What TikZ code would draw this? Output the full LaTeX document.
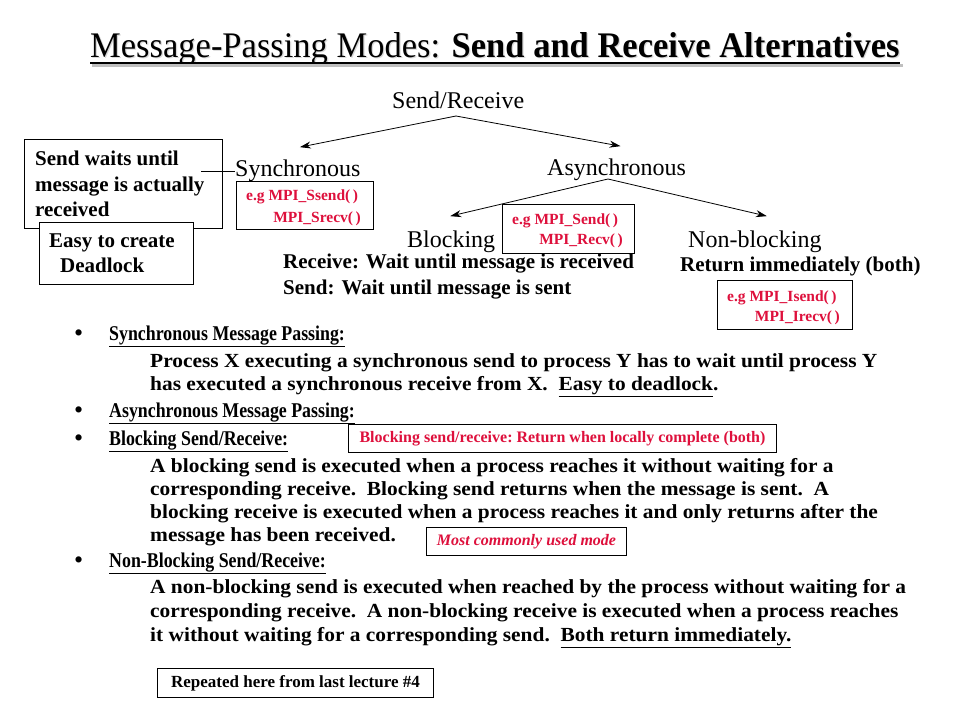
\documentclass[tikz,border=0pt]{standalone}
\usepackage{fontspec}
\setmainfont{Liberation Serif}
\newfontfamily\condfont[FakeStretch=0.85]{Liberation Serif}
\newfontfamily\widefont[FakeStretch=1.07]{Liberation Serif}
\usetikzlibrary{arrows.meta}
\definecolor{mpired}{RGB}{222,16,60}
\begin{document}
\begin{tikzpicture}[x=1pt,y=-1pt,
  every node/.style={inner sep=0pt},
  lbl/.style={font=\fontsize{24}{28}\selectfont, anchor=base west},
  bt/.style={font=\bfseries\fontsize{21}{24}\selectfont, anchor=base west},
  head/.style={font=\condfont\bfseries\fontsize{21}{24}\selectfont, anchor=base west},
  body/.style={font=\widefont\bfseries\fontsize{20}{23}\selectfont, anchor=base west},
  redt/.style={font=\bfseries\fontsize{15.5}{17}\selectfont, text=mpired, anchor=base west},
  redbox/.style={draw, line width=1pt, fill=white},
  plainbox/.style={draw, line width=1pt, fill=white},
  arr/.style={-{Stealth[length=11pt,width=7pt]}, line width=0.8pt},
]
\useasboundingbox (0,0) rectangle (960,720);
\fill[white] (0,0) rectangle (960,720);

% title
\node[anchor=base west, font=\fontsize{36}{40}\selectfont, text=gray!30] (titleshadow) at (91.2,58.2)
  {\scalebox{0.959}[1]{Message-Passing Modes: \textbf{Send and Receive Alternatives}}};
\node[anchor=base west, font=\fontsize{36}{40}\selectfont] (title) at (90,57)
  {\scalebox{0.959}[1]{Message-Passing Modes: \textbf{Send and Receive Alternatives}}};
\draw[line width=3pt, gray!50] ([xshift=2pt,yshift=-8pt]title.base west) -- ([xshift=3pt,yshift=-8pt]title.base east);
\draw[line width=2.8pt] ([yshift=-6pt]title.base west) -- ([yshift=-6pt]title.base east);

% tree
\node[lbl] (sr) at (392,108) {Send/Receive};
\node[lbl] (sync) at (235,176) {Synchronous};
\node[lbl] (async) at (547,175) {Asynchronous};
\node[lbl] (block) at (407,247) {Blocking};
\node[lbl] (nonblock) at (688,247) {Non-blocking};
\coordinate (apex1) at (456,116);
\coordinate (apex2) at (608,179);
\draw[arr] (apex1) -- ([xshift=2pt,yshift=12pt]sync.north);
\draw[arr] (apex1) -- ([xshift=4pt,yshift=12pt]async.north);
\draw[arr] (apex2) -- ([xshift=-1pt,yshift=14pt]block.north);
\draw[arr] (apex2) -- ([xshift=12pt,yshift=14pt]nonblock.north);

% send waits box
\node[plainbox, anchor=north west, minimum width=198pt, minimum height=89pt] (swbox) at (24,139) {};
\node[bt] (sw1) at (35,165) {Send waits until};
\node[bt] (sw2) at (35,191) {message is actually};
\node[bt] (sw3) at (35,216) {received};
\coordinate (swend) at (201,171);
\draw[line width=0.8pt] (swend) -- (sync.west |- swend);

% deadlock box
\node[plainbox, anchor=north west, minimum width=154pt, minimum height=62pt] (dlbox) at (39,222) {};
\node[bt] (dl1) at (49,247) {Easy to create};
\node[bt] (dl2) at (60,272) {Deadlock};

% red boxes
\node[redbox, anchor=north west, minimum width=137pt, minimum height=48pt] (ssbox) at (236,181) {};
\node[redt] (ss1) at (246,200) {e.g MPI\_Ssend(\,)};
\node[redt, anchor=base east] (ss2) at (361,222) {MPI\_Srecv(\,)};

\node[redbox, anchor=north west, minimum width=132pt, minimum height=49pt] (sdbox) at (502,204) {};
\node[redt] (sd1) at (512,224) {e.g MPI\_Send(\,)};
\node[redt, anchor=base east] (sd2) at (623,244) {MPI\_Recv(\,)};

\node[redbox, anchor=north west, minimum width=135pt, minimum height=49pt] (isbox) at (717,280) {};
\node[redt] (is1) at (727,301) {e.g MPI\_Isend(\,)};
\node[redt, anchor=base east] (is2) at (840,321) {MPI\_Irecv(\,)};

% blocking / nonblocking descriptions
\node[bt] (rw) at (283,268) {Receive: Wait until message is received};
\node[bt] (sdw) at (283,294) {Send: Wait until message is sent};
\node[bt] (ri) at (680,271) {Return immediately (both)};

% bullets
\foreach \y/\n in {340/b1,417/b2,445/b3,567/b4}
  \node[font=\fontsize{26}{28}\selectfont, anchor=base west] (\n) at (74,\y+1) {•};
\node[head] (h1) at (109,340) {\underline{Synchronous Message Passing:}};
\node[body] (p11) at (150,367) {Process X executing a synchronous send to process Y has to wait until process Y};
\node[body] (p12) at (150,390) {has executed a synchronous receive from X.\ \ \underline{Easy to deadlock}.};
\node[head] (h2) at (109,417) {\underline{Asynchronous Message Passing:}};
\node[head] (h3) at (109,445) {\underline{Blocking Send/Receive:}};
\node[redbox, anchor=north west, minimum width=428pt, minimum height=28pt] (blbox) at (348,424) {};
\node[font=\bfseries\fontsize{16}{18}\selectfont, text=mpired] (bltxt) at (blbox.center) {Blocking send/receive:\ Return when locally complete (both)};
\node[body] (p31) at (150,472) {A blocking send is executed when a process reaches it without waiting for a};
\node[body] (p32) at (150,495) {corresponding receive.\ \ Blocking send returns when the message is sent.\ \ A};
\node[body] (p33) at (150,518) {blocking receive is executed when a process reaches it and only returns after the};
\node[body] (p34) at (150,541) {message has been received.};
\node[redbox, anchor=north west, minimum width=200pt, minimum height=28pt] (mcbox) at (426,527) {};
\node[font=\bfseries\itshape\fontsize{16}{18}\selectfont, text=mpired] (mctxt) at (mcbox.center) {Most commonly used mode};
\node[head] (h4) at (109,567) {\underline{Non-Blocking Send/Receive:}};
\node[body] (p41) at (150,593) {A non-blocking send is executed when reached by the process without waiting for a};
\node[body] (p42) at (150,617) {corresponding receive.\ \ A non-blocking receive is executed when a process reaches};
\node[body] (p43) at (150,641) {it without waiting for a corresponding send.\ \ \underline{Both return immediately.}};

\node[plainbox, anchor=north west, minimum width=276pt, minimum height=29pt] (rpbox) at (157,668) {};
\node[font=\bfseries\fontsize{17}{19}\selectfont] (rptxt) at (rpbox.center) {Repeated here from last lecture \#4};
\end{tikzpicture}
\end{document}
